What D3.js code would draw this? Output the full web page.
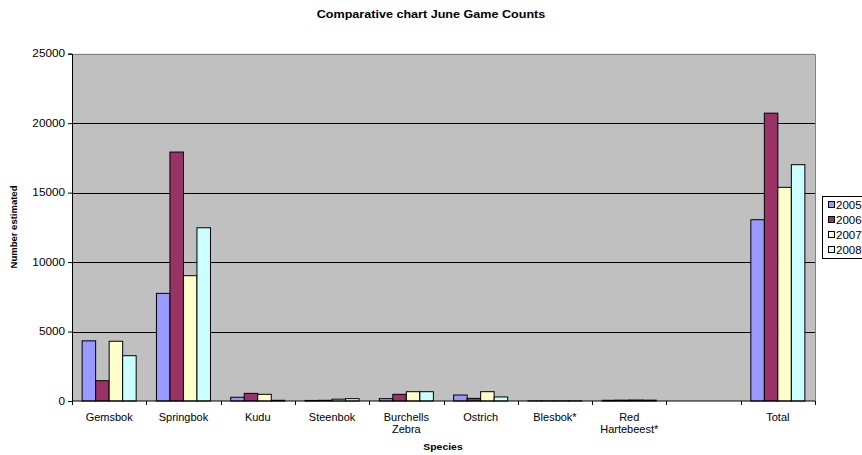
<!DOCTYPE html>
<html>
<head>
<meta charset="utf-8">
<script src="https://cdn.jsdelivr.net/npm/d3@7"></script>
<style>
  html, body { margin: 0; padding: 0; background: #fff; }
  svg { display: block; font-family: "Liberation Sans", Arial, sans-serif; }
</style>
</head>
<body>
<svg id="chart" width="862" height="455"></svg>
<script>
// June game counts per species, by year
const categories = ["Gemsbok", "Springbok", "Kudu", "Steenbok", "Burchells\nZebra",
  "Ostrich", "Blesbok*", "Red\nHartebeest*", "", "Total"];
const years = ["2005", "2006", "2007", "2008"];
const counts2005 = [4330, 7750, 270, 40, 170, 430, 10, 50, null, 13050];
const counts2006 = [1460, 17920, 550, 50, 480, 190, 10, 60, null, 20720];
const counts2007 = [4300, 9020, 480, 130, 670, 670, 10, 70, null, 15380];
const counts2008 = [3260, 12470, 50, 170, 670, 290, 10, 60, null, 17010];
const yTicks = [0, 5000, 10000, 15000, 20000, 25000];
const colors = ["#9999FF", "#993366", "#FFFFCC", "#CCFFFF"];

const series = [counts2005, counts2006, counts2007, counts2008];

const svg = d3.select("#chart");
const plot = { left: 72, right: 815, top: 53.7, bottom: 401 };
const SX = 1.1; // horizontal text stretch

const x = d3.scaleBand()
  .domain(d3.range(categories.length))
  .range([plot.left, plot.right])
  .paddingInner(0)
  .paddingOuter(0);
const y = d3.scaleLinear().domain([0, 25000]).range([plot.bottom, plot.top]);

function text(g, tx, ty, str, opts = {}) {
  return g.append("text")
    .attr("transform", `translate(${tx},${ty}) scale(${opts.sx ?? SX},1)`)
    .attr("text-anchor", opts.anchor || "middle")
    .attr("font-size", opts.size || 10)
    .attr("font-weight", opts.bold ? "bold" : "normal")
    .attr("fill", "#000")
    .text(str);
}

// plot background
svg.append("rect")
  .attr("x", plot.left).attr("y", plot.top)
  .attr("width", plot.right - plot.left).attr("height", plot.bottom - plot.top)
  .attr("fill", "#C0C0C0");

// gridlines
svg.append("g").selectAll("line")
  .data(yTicks.filter(d => d > 0 && d < 25000))
  .join("line")
  .attr("x1", plot.left).attr("x2", plot.right)
  .attr("y1", d => Math.round(y(d)) + 0.5).attr("y2", d => Math.round(y(d)) + 0.5)
  .attr("stroke", "#000").attr("stroke-width", 1);

// plot border (top and right)
svg.append("path")
  .attr("d", `M${plot.left},${Math.round(plot.top) + 0.5}H${Math.round(plot.right) + 0.5}V${plot.bottom}`)
  .attr("fill", "none").attr("stroke", "#808080");

// bars: four per category, with a 150% gap between groups
const barW = x.bandwidth() / 5.5;
const gBars = svg.append("g");
series.forEach((vals, s) => {
  gBars.append("g").selectAll("rect")
    .data(vals.map((v, i) => ({ v, i })).filter(d => d.v != null))
    .join("rect")
    .attr("x", d => x(d.i) + barW * 0.75 + s * barW)
    .attr("width", barW)
    .attr("y", d => y(d.v))
    .attr("height", d => y(0) - y(d.v))
    .attr("fill", colors[s])
    .attr("stroke", "#000")
    .attr("stroke-width", 1);
});

// y axis
const yAxis = svg.append("g")
  .attr("transform", `translate(${plot.left},0)`)
  .call(d3.axisLeft(y).tickValues(yTicks).tickSize(4).tickFormat(d3.format("d")));
yAxis.select(".domain").attr("stroke", "#000");
yAxis.selectAll(".tick line").attr("stroke", "#000");
yAxis.selectAll(".tick text").remove();
yTicks.forEach(v => text(yAxis, -7, y(v) + 3.7, String(v), { anchor: "end", size: 10.5, sx: 1.12 }));

// x axis
const xAxis = svg.append("g")
  .attr("transform", `translate(0,${plot.bottom})`);
xAxis.append("line")
  .attr("x1", plot.left).attr("x2", plot.right).attr("stroke", "#000");
xAxis.selectAll("line.tk")
  .data(d3.range(categories.length + 1))
  .join("line").attr("class", "tk")
  .attr("x1", i => Math.round(plot.left + i * x.step()) + 0.5)
  .attr("x2", i => Math.round(plot.left + i * x.step()) + 0.5)
  .attr("y1", 0).attr("y2", 4).attr("stroke", "#000");
categories.forEach((c, i) => {
  c.split("\n").forEach((line, k) => {
    text(xAxis, x(i) + x.bandwidth() / 2, 19.5 + k * 12.5, line, { size: 10 });
  });
});

// titles
text(svg, 431, 18, "Comparative chart June Game Counts", { bold: true, size: 10.5, sx: 1.2 });
text(svg, 443, 450, "Species", { bold: true, size: 9.5 });
svg.append("text")
  .attr("transform", "translate(17,227) rotate(-90)")
  .attr("text-anchor", "middle")
  .attr("font-size", 9.5).attr("font-weight", "bold")
  .text("Number estimated");

// legend
const lg = svg.append("g").attr("transform", "translate(822,196)");
lg.append("rect").attr("x", 0.5).attr("y", 0.5).attr("width", 60).attr("height", 62)
  .attr("fill", "#fff").attr("stroke", "#000");
years.forEach((yr, s) => {
  const cy = 9 + s * 15;
  lg.append("rect").attr("x", 6.5).attr("y", cy - 3.5).attr("width", 6).attr("height", 6)
    .attr("fill", colors[s]).attr("stroke", "#000");
  text(lg, 14, cy + 4, yr, { anchor: "start", size: 10.5 });
});
</script>
</body>
</html>
